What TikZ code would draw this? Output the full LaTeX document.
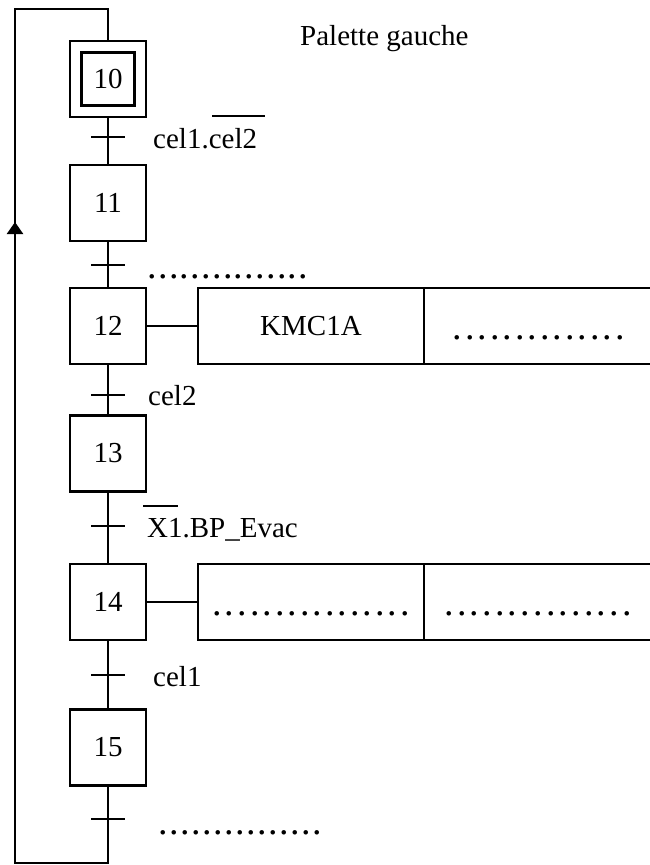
\documentclass[tikz,border=0pt]{standalone}
\usepackage{fontspec}
\setmainfont{Liberation Serif}
\usetikzlibrary{arrows.meta}
\newcommand{\dotrun}[2]{{\fontsize{38}{40}\selectfont\hbox to #1{\xleaders\hbox to #2{\hss.\hss}\hfill}}}
\begin{document}
\begin{tikzpicture}[x=1pt,y=-1pt,
  every node/.style={font=\fontsize{29}{33}\selectfont},
  lw/.style={line width=2.3pt},
  stepbox/.style={draw,lw,rectangle,minimum width=76pt,minimum height=76pt,inner sep=0pt},
  innerbox/.style={draw,lw,rectangle,minimum width=53pt,minimum height=53pt,inner sep=0pt},
  actbox/.style={draw,lw,rectangle,minimum height=76pt,inner sep=0pt},
  trans/.style={fill=black,rectangle,minimum width=34pt,minimum height=2.3pt,inner sep=0pt},
  lbl/.style={anchor=base west,inner sep=0pt},
]
\useasboundingbox (0,0) rectangle (649,865);

% steps
\node[stepbox] (s10) at (108,79) {};
\node[innerbox] (s10i) at (108,79) {10};
\node[stepbox] (s11) at (108,203) {11};
\node[stepbox] (s12) at (108,326) {12};
\node[stepbox] (s13) at (108,453.5) {13};
\node[stepbox] (s14) at (108,602) {14};
\node[stepbox] (s15) at (108,747.5) {15};

% transitions
\node[trans] (t1) at (108,137) {};
\node[trans] (t2) at (108,265) {};
\node[trans] (t3) at (108,395) {};
\node[trans] (t4) at (108,526) {};
\node[trans] (t5) at (108,675) {};
\node[trans] (t6) at (108,819) {};

% links
\draw[lw] (s10.south) -- (s11.north);
\draw[lw] (s11.south) -- (s12.north);
\draw[lw] (s12.south) -- (s13.north);
\draw[lw] (s13.south) -- (s14.north);
\draw[lw] (s14.south) -- (s15.north);

% loop back
\coordinate (bl) at (15,863);
\coordinate (ar) at (15,222);
\coordinate (tl) at (15,9);
\draw[lw] (s15.south) |- (bl) -- (ar);
\draw[lw,-{Triangle[length=12pt,width=16pt]}] (bl) -- (ar);
\draw[lw] (ar) -- (tl) -| (s10.north);

% actions
\node[actbox,minimum width=226pt] (a12a) at (311,326) {KMC1A};
\node[actbox,minimum width=246pt] (a12b) at (547,326) {};
\node[actbox,minimum width=226pt] (a14a) at (311,602) {};
\node[actbox,minimum width=246pt] (a14b) at (547,602) {};
\draw[lw] (s12.east) -- (a12a.west);
\draw[lw] (s14.east) -- (a14a.west);

% dotted texts
\node[lbl] (d12) at (451,339.5) {\dotrun{175pt}{12.5pt}};
\node[lbl] (d14a) at (210.7,615) {\dotrun{200.5pt}{12.53pt}};
\node[lbl] (d14b) at (442.6,615) {\dotrun{190.7pt}{12.7pt}};

% receptivities
\node[lbl] (r1) at (153,148) {cel1.cel2};
\draw[lw] (212,116) -- (265,116);
\node[lbl] (r2) at (146.6,278.5) {\dotrun{162pt}{10.8pt}};
\node[lbl] (r3) at (148,405) {cel2};
\node[lbl] (r4) at (147,537) {X1.BP\_Evac};
\draw[lw] (143,506) -- (178,506);
\node[lbl] (r5) at (153,686) {cel1};
\node[lbl] (r6) at (157.5,834) {\dotrun{165pt}{11pt}};

% title
\node[lbl] (title) at (300,45) {Palette gauche};
\end{tikzpicture}
\end{document}
